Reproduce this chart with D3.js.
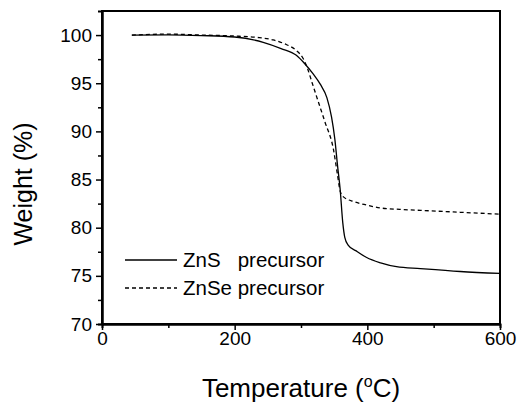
<!DOCTYPE html>
<html>
<head>
<meta charset="utf-8">
<script src="https://cdn.jsdelivr.net/npm/d3@7"></script>
<style>
  body { margin: 0; background: #fff; }
  svg { display: block; font-family: "Liberation Sans", Arial, sans-serif; }
</style>
</head>
<body>
<div id="chart"></div>
<script>
// TGA curves
const znsTemp   = [45, 100, 150, 200, 243, 270, 293, 306, 318, 329, 339, 346, 351, 355, 359, 363, 366, 371, 385, 399, 420, 444, 480, 540, 600];
const znsWeight = [100.0, 100.02, 99.95, 99.8, 99.25, 98.6, 97.9, 97.0, 96.0, 94.9, 93.5, 91.5, 89.2, 86.5, 84.0, 80.5, 79.0, 78.2, 77.5, 76.9, 76.35, 75.95, 75.75, 75.45, 75.25];

const znseTemp   = [45, 100, 150, 200, 233, 258, 275, 293, 303, 310, 317, 325, 336, 349, 355, 359, 364, 380, 399, 420, 449, 480, 540, 600];
const znseWeight = [100.0, 100.1, 100.0, 99.9, 99.76, 99.5, 99.1, 98.4, 97.6, 96.5, 95.0, 93.3, 91.0, 88.1, 85.5, 83.8, 83.2, 82.7, 82.35, 82.05, 81.9, 81.8, 81.6, 81.4];

const seriesNames = ['ZnS   precursor', 'ZnSe precursor'];
const xTicks = [0, 200, 400, 600];
const xMinor = [100, 300, 500];
const yTicks = [70, 75, 80, 85, 90, 95, 100];
const yMinor = [72.5, 77.5, 82.5, 87.5, 92.5, 97.5];

const width = 519, height = 406;
const margin = { top: 11, right: 19, bottom: 82, left: 102 };
const innerW = width - margin.left - margin.right;
const innerH = height - margin.top - margin.bottom;

const svg = d3.select('#chart').append('svg')
    .attr('width', width)
    .attr('height', height);

const g = svg.append('g').attr('transform', `translate(${margin.left},${margin.top})`);

const x = d3.scaleLinear().domain([0, 600]).range([0, innerW]);
const y = d3.scaleLinear().domain([70, 102.5]).range([innerH, 0]);

// frame
g.append('rect')
    .attr('width', innerW)
    .attr('height', innerH)
    .attr('fill', 'none')
    .attr('stroke', '#000')
    .attr('stroke-width', 2);

// axes
const xAxis = g.append('g')
    .attr('transform', `translate(0,${innerH})`)
    .call(d3.axisBottom(x).tickValues(xTicks).tickSize(6).tickSizeOuter(0).tickPadding(2));
const xAxisMinor = g.append('g')
    .attr('transform', `translate(0,${innerH})`)
    .call(d3.axisBottom(x).tickValues(xMinor).tickSize(4).tickFormat(''));

const yAxis = g.append('g')
    .call(d3.axisLeft(y).tickValues(yTicks).tickSize(6).tickSizeOuter(0).tickPadding(4));
const yAxisMinor = g.append('g')
    .call(d3.axisLeft(y).tickValues(yMinor).tickSize(4).tickFormat(''));

[xAxis, xAxisMinor, yAxis, yAxisMinor].forEach(a => {
    a.select('.domain').attr('stroke-width', 2);
    a.selectAll('.tick line').attr('stroke-width', 1.5);
});
xAxis.selectAll('text').attr('font-size', 19).attr('fill', '#000');
yAxis.selectAll('text').attr('font-size', 19).attr('fill', '#000');

// curves
const line = d3.line()
    .x(d => x(d[0]))
    .y(d => y(d[1]))
    .curve(d3.curveMonotoneX);

const zns = d3.zip(znsTemp, znsWeight);
const znse = d3.zip(znseTemp, znseWeight);

g.append('path')
    .datum(znse)
    .attr('d', line)
    .attr('fill', 'none')
    .attr('stroke', '#000')
    .attr('stroke-width', 1.3)
    .attr('stroke-dasharray', '4,3');

g.append('path')
    .datum(zns)
    .attr('d', line)
    .attr('fill', 'none')
    .attr('stroke', '#000')
    .attr('stroke-width', 1.3);

// legend
const legend = g.selectAll('.legend')
    .data(seriesNames)
    .enter().append('g')
    .attr('class', 'legend')
    .attr('transform', (d, i) => `translate(23,${249 + i * 28})`);

legend.append('line')
    .attr('x1', 0).attr('x2', 52)
    .attr('stroke', '#000')
    .attr('stroke-width', 1.3)
    .attr('stroke-dasharray', (d, i) => i ? '4,3' : null);

legend.append('text')
    .attr('x', 58)
    .attr('dy', '0.36em')
    .attr('font-size', 20.5)
    .style('white-space', 'pre')
    .text(d => d);

// axis titles
svg.append('text')
    .attr('x', margin.left + innerW / 2)
    .attr('y', 397)
    .attr('text-anchor', 'middle')
    .attr('font-size', 26)
    .call(t => {
        t.append('tspan').text('Temperature (');
        t.append('tspan').attr('font-size', 16).attr('dy', -10).text('o');
        t.append('tspan').attr('dy', 10).text('C)');
    });

svg.append('text')
    .attr('transform', `translate(32,${184}) rotate(-90)`)
    .attr('text-anchor', 'middle')
    .attr('font-size', 25)
    .text('Weight (%)');
</script>
</body>
</html>
